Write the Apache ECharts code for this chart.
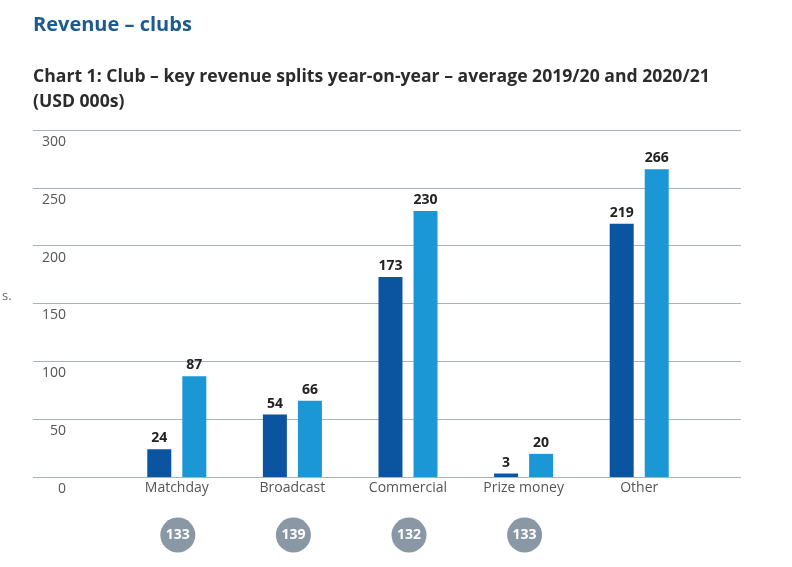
<!DOCTYPE html>
<html><head><meta charset="utf-8">
<script src="https://cdn.jsdelivr.net/npm/echarts@6/dist/echarts.min.js"></script>
<style>html,body{margin:0;padding:0;background:#fff}#c{width:792px;height:567px}</style>
</head><body><div id="c"></div>
<script>
const categories = ['Matchday', 'Broadcast', 'Commercial', 'Prize money', 'Other'];
const values2019 = [24, 54, 173, 3, 219];
const values2020 = [87, 66, 230, 20, 266];
const sampleCounts = [133, 139, 132, 133, null];
const yTicks = [0, 50, 100, 150, 200, 250, 300];

const chart = echarts.init(document.getElementById('c'));
const font = '"Open Sans", "Noto Sans", sans-serif';
const barLabel = {show: true, position: 'top', distance: 4, color: '#222', fontWeight: 'bold', fontSize: 14, fontFamily: font};
chart.setOption({
  animation: false,
  textStyle: {fontFamily: font},
  title: [
    {text: 'Revenue – clubs', left: 28, top: 10, textStyle: {color: '#1d5a8e', fontSize: 20, fontWeight: 'bold', fontFamily: font}},
    {text: 'Chart 1: Club – key revenue splits year-on-year – average 2019/20 and 2020/21\n(USD 000s)', left: 28, top: 59,
     textStyle: {color: '#2b2b2b', fontSize: 17.6, fontWeight: 'bold', lineHeight: 25, fontFamily: font}},
    {text: 's.', left: -3, top: 285, textStyle: {color: '#666', fontSize: 13, fontWeight: 'normal', fontFamily: font}}
  ],
  grid: [
    {left: 33, right: 51, top: 130, bottom: 90},
    {left: 119, right: 95, top: 130, bottom: 90},
    {left: 120, right: 94, top: 517, height: 36}
  ],
  xAxis: [
    {gridIndex: 0, type: 'value', min: 0, max: 1, show: false},
    {gridIndex: 1, type: 'category', data: categories,
     axisLine: {show: false}, axisTick: {show: false},
     axisLabel: {color: '#555', fontSize: 14, margin: 4, fontFamily: font}},
    {gridIndex: 2, type: 'category', data: categories, show: false}
  ],
  yAxis: [
    {gridIndex: 0, type: 'value', min: 0, max: 300, interval: 50,
     axisLine: {show: false}, axisTick: {show: false},
     splitLine: {lineStyle: {color: '#a9b3bd', width: 1}},
     axisLabel: {color: '#555', fontSize: 14, align: 'right', margin: -33, verticalAlign: 'top', padding: [5, 0, 0, 0], fontFamily: font,
                 formatter: v => yTicks.includes(v) ? String(v) : ''}},
    {gridIndex: 1, type: 'value', min: 0, max: 300, interval: 50, show: false},
    {gridIndex: 2, type: 'value', min: 0, max: 1, show: false}
  ],
  series: [
    {type: 'bar', name: '2019/20', xAxisIndex: 1, yAxisIndex: 1, data: values2019, barWidth: 24, barGap: '46%',
     itemStyle: {color: '#0b55a0'}, label: barLabel},
    {type: 'bar', name: '2020/21', xAxisIndex: 1, yAxisIndex: 1, data: values2020, barWidth: 24,
     itemStyle: {color: '#1b97d5'}, label: barLabel},
    {type: 'scatter', xAxisIndex: 2, yAxisIndex: 2, symbolSize: 35,
     data: sampleCounts.map((v, i) => v == null ? null : [i, 0.5, v]),
     itemStyle: {color: '#8a98a5', opacity: 1},
     label: {show: true, position: 'inside', color: '#fff', fontSize: 14, fontWeight: 'bold', fontFamily: font, formatter: p => p.data[2]}}
  ]
});
</script></body></html>
